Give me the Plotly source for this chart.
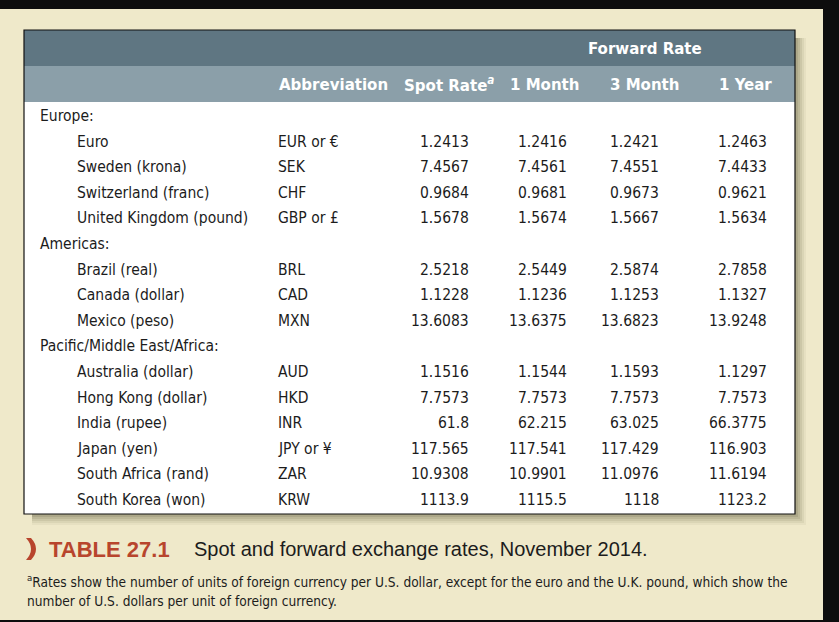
import plotly.graph_objects as go

# ---------------- data ----------------
regions = ["Europe:", "Americas:", "Pacific/Middle East/Africa:"]
country_region = [0, 0, 0, 0, 1, 1, 1, 2, 2, 2, 2, 2, 2]
countries = ["Euro", "Sweden (krona)", "Switzerland (franc)", "United Kingdom (pound)",
             "Brazil (real)", "Canada (dollar)", "Mexico (peso)",
             "Australia (dollar)", "Hong Kong (dollar)", "India (rupee)", "Japan (yen)",
             "South Africa (rand)", "South Korea (won)"]
abbreviations = ["EUR or €", "SEK", "CHF", "GBP or £", "BRL", "CAD", "MXN",
                 "AUD", "HKD", "INR", "JPY or ¥", "ZAR", "KRW"]
spot_rate = [1.2413, 7.4567, 0.9684, 1.5678, 2.5218, 1.1228, 13.6083,
             1.1516, 7.7573, 61.8, 117.565, 10.9308, 1113.9]
fwd_1_month = [1.2416, 7.4561, 0.9681, 1.5674, 2.5449, 1.1236, 13.6375,
               1.1544, 7.7573, 62.215, 117.541, 10.9901, 1115.5]
fwd_3_month = [1.2421, 7.4551, 0.9673, 1.5667, 2.5874, 1.1253, 13.6823,
               1.1593, 7.7573, 63.025, 117.429, 11.0976, 1118]
fwd_1_year = [1.2463, 7.4433, 0.9621, 1.5634, 2.7858, 1.1327, 13.9248,
              1.1297, 7.7573, 66.3775, 116.903, 11.6194, 1123.2]
column_headers = ["Abbreviation", "Spot Rate<sup><i>a</i></sup>", "1 Month", "3 Month", "1 Year"]
group_header = "Forward Rate"
caption_label = "TABLE 27.1"
caption_text = "Spot and forward exchange rates, November 2014."
footnote_lines = [
    "<sup>a</sup>Rates show the number of units of foreign currency per U.S. dollar, except for the euro and the U.K. pound, which show the",
    "number of U.S. dollars per unit of foreign currency.",
]

# ---------------- style ----------------
W, H = 839, 622
FONT = "DejaVu Sans Condensed, Liberation Sans Narrow, Arial Narrow, sans-serif"
FONT_WIDE = "Liberation Sans, Arial, Helvetica, sans-serif"
CREAM = "#efe9ca"
DARK_HDR = "#5f7682"
LIGHT_HDR = "#8b9fa9"
TXT = "#1c1c1c"
RED = "#b8452d"
BODY_SIZE = 15.5
HDR_SIZE = 16.7

fig = go.Figure()
fig.add_trace(go.Scatter(x=[0, W], y=[0, H], mode="markers", marker=dict(opacity=0),
                         hoverinfo="skip", showlegend=False))

shapes = []
# cream panel
shapes.append(dict(type="rect", x0=0, x1=823, y0=9, y1=620, fillcolor=CREAM, line=dict(width=0), layer="below"))
# table shadow (soft)
for i, op in enumerate([0.05, 0.07, 0.09, 0.11, 0.13]):
    d = 11 - i * 2
    shapes.append(dict(type="rect", x0=24 + 8, x1=795 + d, y0=30 + 8, y1=514 + d,
                       fillcolor=f"rgba(70,65,35,{op})", line=dict(width=0), layer="below"))
# table body
TX0, TX1, TY0, TY1 = 24, 795, 30, 514
shapes.append(dict(type="rect", x0=TX0, x1=TX1, y0=TY0, y1=TY1, fillcolor="white", line=dict(width=0), layer="below"))
shapes.append(dict(type="rect", x0=TX0, x1=TX1, y0=TY0, y1=66, fillcolor=DARK_HDR, line=dict(width=0), layer="below"))
shapes.append(dict(type="rect", x0=TX0, x1=TX1, y0=66, y1=102, fillcolor=LIGHT_HDR, line=dict(width=0), layer="below"))
shapes.append(dict(type="rect", x0=TX0, x1=TX1, y0=TY0, y1=TY1, fillcolor="rgba(0,0,0,0)",
                   line=dict(width=1.2, color="#111")))
# caption marker
shapes.append(dict(type="path", path="M 26 538 Q 36 549 26 560 L 31 560 Q 41 549 31 538 Z",
                   fillcolor=RED, line=dict(width=0)))

ann = []
def txt(x, y, s, anchor="left", size=BODY_SIZE, color=TXT, family=FONT, bold=False):
    if bold:
        s = f"<b>{s}</b>"
    ann.append(dict(x=x, y=y, text=s, xanchor=anchor, yanchor="middle", showarrow=False,
                    font=dict(family=family, size=size, color=color), xref="x", yref="y"))

# headers
txt(645, 48, group_header, "center", HDR_SIZE, "white", bold=True)
hdr_x = [277, 449, 545, 645, 745]
hdr_anchor = ["left", "center", "center", "center", "center"]
for s, x, a in zip(column_headers, hdr_x, hdr_anchor):
    txt(x, 84, s, a, HDR_SIZE, "white", bold=True)

# rows
value_cols = [spot_rate, fwd_1_month, fwd_3_month, fwd_1_year]
value_x = [471, 569, 661, 769]
row_y0, row_step = 116, 25.6
r = 0
prev = None
for i, c in enumerate(countries):
    if country_region[i] != prev:
        prev = country_region[i]
        txt(38, row_y0 + r * row_step, regions[prev])
        r += 1
    y = row_y0 + r * row_step
    txt(75, y, c)
    txt(276, y, abbreviations[i])
    for col, x in zip(value_cols, value_x):
        txt(x, y, f"{col[i]:g}", "right")
    r += 1

# caption
txt(47, 549, caption_label, "left", 22, RED, FONT_WIDE, bold=True)
txt(192, 549, caption_text, "left", 20, TXT, FONT_WIDE)
txt(25, 581, footnote_lines[0], "left", 13.6, TXT)
txt(25, 601, footnote_lines[1], "left", 13.6, TXT)

fig.update_layout(
    width=W, height=H, margin=dict(l=0, r=0, t=0, b=0),
    paper_bgcolor="#0d0d0d", plot_bgcolor="#0d0d0d",
    xaxis=dict(range=[0, W], visible=False, fixedrange=True),
    yaxis=dict(range=[H, 0], visible=False, fixedrange=True),
    shapes=shapes, annotations=ann, showlegend=False,
)
fig.write_html("out.html", config={"displayModeBar": False},
               post_script="document.body.style.margin='0';document.body.style.background='#0d0d0d';")
